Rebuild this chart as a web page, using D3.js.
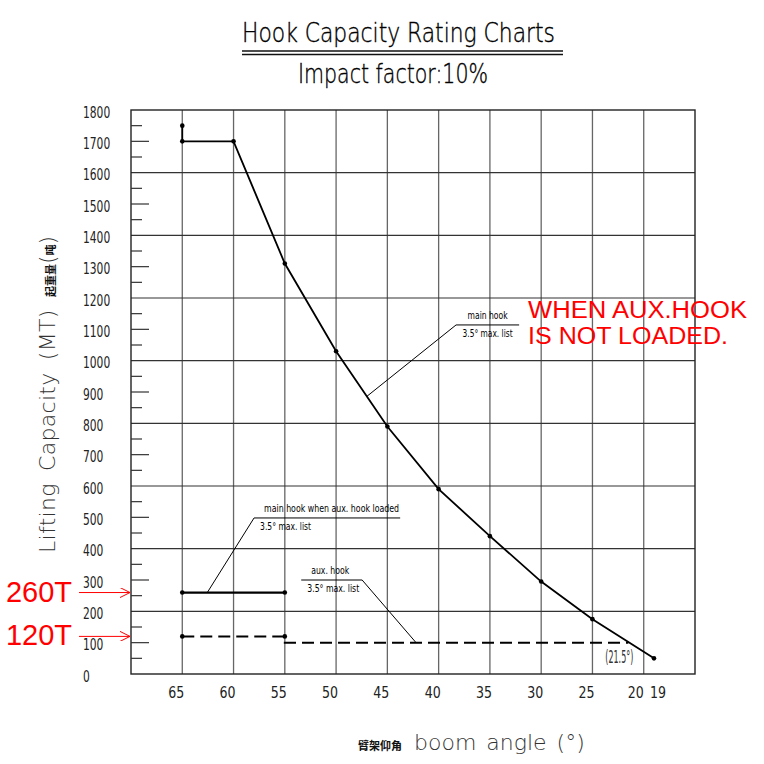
<!DOCTYPE html>
<html>
<head>
<meta charset="utf-8">
<script src="https://cdn.jsdelivr.net/npm/d3@7"></script>
<style>
  body { margin: 0; background: #fff; }
  .narrow { font-family: "Liberation Sans Narrow", "DejaVu Sans Condensed", sans-serif; }
  .thin { font-family: "DejaVu Sans", sans-serif; font-weight: 200; }
</style>
</head>
<body>
<div class="chart"></div>
<script>
// boom angle (deg) vs lifting capacity (MT)
var mainAngles = [65, 65, 60, 55, 50, 45, 40, 35, 30, 25, 19],
  mainLoads = [1750, 1700, 1700, 1310, 1030, 790, 590, 440, 295, 175, 50];
var loadedAngles = [65, 55],
  loadedLoads = [260, 260];
var auxAngles = [65, 55, 55, 21.5],
  auxLoads = [120, 120, 100, 100];
var auxDots = [0, 1]; // which aux points get a dot

var xTicks = [65, 60, 55, 50, 45, 40, 35, 30, 25, 20, 19],
  xGrid = [65, 60, 55, 50, 45, 40, 35, 30, 25, 20];
var yTicks = d3.range(0, 1801, 100),
  yMinor = d3.range(50, 1800, 100),
  yGrid = d3.range(200, 1601, 200);

var w = 764, h = 764;

var x = d3.scaleLinear().domain([70, 15]).range([131, 695]);
var y = d3.scaleLinear().domain([0, 1800]).range([674, 110]);

var svg = d3.select('.chart')
  .append('svg')
  .attr('width', w)
  .attr('height', h);

// grid
svg.selectAll('.vgrid')
  .data(xGrid)
  .enter()
  .append('line')
  .attr('x1', d => x(d)).attr('x2', d => x(d))
  .attr('y1', y(0)).attr('y2', y(1800))
  .attr('stroke', '#666').attr('stroke-width', 1.3);

svg.selectAll('.hgrid')
  .data(yGrid)
  .enter()
  .append('line')
  .attr('x1', x(70)).attr('x2', x(15))
  .attr('y1', d => y(d)).attr('y2', d => y(d))
  .attr('stroke', '#333').attr('stroke-width', 1.2);

// frame
svg.append('rect')
  .attr('x', x(70)).attr('y', y(1800))
  .attr('width', x(15) - x(70)).attr('height', y(0) - y(1800))
  .attr('fill', 'none').attr('stroke', '#222').attr('stroke-width', 1.4);

// y ticks (inside)
svg.selectAll('.ytick')
  .data(yTicks.filter(d => d % 200 !== 0))
  .enter()
  .append('line')
  .attr('x1', x(70)).attr('x2', x(70) + 18)
  .attr('y1', d => y(d)).attr('y2', d => y(d))
  .attr('stroke', '#333').attr('stroke-width', 1.2);

svg.selectAll('.yminor')
  .data(yMinor)
  .enter()
  .append('line')
  .attr('x1', x(70)).attr('x2', x(70) + 11)
  .attr('y1', d => y(d)).attr('y2', d => y(d))
  .attr('stroke', '#333').attr('stroke-width', 1.2);

svg.selectAll('.ylab')
  .data(yTicks)
  .enter()
  .append('text')
  .attr('class', 'narrow')
  .attr('x', 83)
  .attr('y', d => y(d) + 2)
  .attr('dominant-baseline', 'central')
  .attr('font-size', 16)
  .attr('textLength', d => String(d).length * 6.8)
  .attr('lengthAdjust', 'spacingAndGlyphs')
  .attr('fill', '#222')
  .text(d => d);

svg.selectAll('.xlab')
  .data(xTicks)
  .enter()
  .append('text')
  .attr('class', 'narrow')
  .attr('x', d => x(d) - (d === 19 ? 0 : 6))
  .attr('y', 692)
  .attr('dominant-baseline', 'central')
  .attr('text-anchor', d => d === 20 ? 'end' : (d === 19 ? 'start' : 'middle'))
  .attr('dx', d => d === 20 ? 6 : (d === 19 ? -4 : 0))
  .attr('font-size', 16)
  .attr('textLength', 16)
  .attr('lengthAdjust', 'spacingAndGlyphs')
  .attr('fill', '#222')
  .text(d => d);

// lines
var line = d3.line()
  .x(d => x(d[0]))
  .y(d => y(d[1]));

var mainData = d3.zip(mainAngles, mainLoads);
var loadedData = d3.zip(loadedAngles, loadedLoads);
var auxData = d3.zip(auxAngles, auxLoads);

svg.append('path')
  .attr('d', line(mainData))
  .attr('fill', 'none').attr('stroke', '#000').attr('stroke-width', 1.8);

svg.append('path')
  .attr('d', line(loadedData))
  .attr('fill', 'none').attr('stroke', '#000').attr('stroke-width', 2.2);

svg.append('path')
  .attr('d', line(auxData))
  .attr('fill', 'none').attr('stroke', '#000').attr('stroke-width', 2)
  .attr('stroke-dasharray', '12,6');

var dots = mainData.concat(loadedData, auxDots.map(i => auxData[i]));
svg.selectAll('.dot')
  .data(dots)
  .enter()
  .append('circle')
  .attr('cx', d => x(d[0]))
  .attr('cy', d => y(d[1]))
  .attr('r', 2.3)
  .attr('fill', '#000');

// annotations with leader lines
var notes = [
  { top: 'main hook', bottom: '3.5° max. list', from: 38.3, to: 32.15, at: 1114, tip: [47, 886], anchor: 'middle', lead: 'from', tw: 40, bw: 50 },
  { top: 'main hook when aux. hook loaded', bottom: '3.5° max. list', from: 58, to: 43.75, at: 498, tip: [62.56, 260], anchor: 'start', lead: 'from', tw: 135, bw: 51 },
  { top: 'aux. hook', bottom: '3.5° max. list', from: 53.4, to: 47.46, at: 300, tip: [42.2, 100], anchor: 'start', lead: 'to', tw: 38, bw: 52 }
];

notes.forEach(function (n) {
  var uy = y(n.at);
  svg.append('line')
    .attr('x1', x(n.from)).attr('x2', x(n.to))
    .attr('y1', uy).attr('y2', uy)
    .attr('stroke', '#000').attr('stroke-width', 1);
  var lx = n.lead === 'from' ? x(n.from) : x(n.to);
  svg.append('line')
    .attr('x1', lx).attr('y1', uy)
    .attr('x2', x(n.tip[0])).attr('y2', y(n.tip[1]))
    .attr('stroke', '#000').attr('stroke-width', 1);
  var tx = n.anchor === 'middle' ? (x(n.from) + x(n.to)) / 2 : x(n.from) + 10;
  svg.append('text')
    .attr('class', 'narrow')
    .attr('x', tx).attr('y', uy - 6)
    .attr('text-anchor', n.anchor)
    .attr('font-size', 10.5)
    .attr('textLength', n.tw)
    .attr('lengthAdjust', 'spacingAndGlyphs')
    .text(n.top);
  svg.append('text')
    .attr('class', 'narrow')
    .attr('x', tx - (n.anchor === 'middle' ? 0 : 4)).attr('y', uy + 12)
    .attr('text-anchor', n.anchor)
    .attr('font-size', 10.5)
    .attr('textLength', n.bw)
    .attr('lengthAdjust', 'spacingAndGlyphs')
    .text(n.bottom);
});

svg.append('text')
  .attr('class', 'narrow')
  .attr('x', x(21.5) - 9).attr('y', 657)
  .attr('text-anchor', 'middle')
  .attr('dominant-baseline', 'central')
  .attr('font-size', 17)
  .attr('textLength', 28)
  .attr('lengthAdjust', 'spacingAndGlyphs')
  .attr('fill', '#333')
  .text('(21.5°)');

// title
svg.append('text')
  .attr('class', 'thin')
  .attr('x', 242).attr('y', 42)
  .attr('font-size', 27)
  .attr('textLength', 313)
  .attr('lengthAdjust', 'spacingAndGlyphs')
  .attr('fill', '#000')
  .attr('stroke', '#000').attr('stroke-width', 0.4)
  .text('Hook Capacity Rating Charts');

[51, 54.5].forEach(function (ly) {
  svg.append('line')
    .attr('x1', 242).attr('x2', 563)
    .attr('y1', ly).attr('y2', ly)
    .attr('stroke', '#111').attr('stroke-width', 1.5);
});

svg.append('text')
  .attr('class', 'thin')
  .attr('x', 298).attr('y', 83)
  .attr('font-size', 27)
  .attr('textLength', 190)
  .attr('lengthAdjust', 'spacingAndGlyphs')
  .attr('fill', '#000')
  .attr('stroke', '#000').attr('stroke-width', 0.4)
  .text('Impact factor:10%');

// axis titles
var yl = svg.append('text')
  .attr('transform', 'translate(55,' + 553 + ') rotate(-90)')
  .attr('text-anchor', 'start')
  .attr('fill', '#333');
yl.append('tspan').attr('class', 'thin').attr('font-size', 22)
  .attr('letter-spacing', 0.3).attr('word-spacing', 5)
  .text('Lifting Capacity (MT) ');
yl.append('tspan').attr('font-family', 'Noto Sans CJK SC').attr('font-weight', 700)
  .attr('font-size', 11).attr('fill', '#111').text('起重量');
yl.append('tspan').attr('class', 'thin').attr('font-size', 22).text('(');
yl.append('tspan').attr('font-family', 'Noto Sans CJK SC').attr('font-weight', 700)
  .attr('font-size', 11).attr('fill', '#111').text('吨');
yl.append('tspan').attr('class', 'thin').attr('font-size', 22).text(')');

var xl = svg.append('text')
  .attr('x', 358).attr('y', 750)
  .attr('fill', '#333');
xl.append('tspan').attr('font-family', 'Noto Sans CJK SC').attr('font-weight', 700)
  .attr('font-size', 11).attr('fill', '#111').text('臂架仰角');
xl.append('tspan').attr('class', 'thin').attr('font-size', 22)
  .attr('dx', 12).attr('word-spacing', 3)
  .text('boom angle (°)');

// red callouts
svg.append('defs').append('marker')
  .attr('id', 'arr')
  .attr('viewBox', '0 0 10 10')
  .attr('refX', 10).attr('refY', 5)
  .attr('markerWidth', 10).attr('markerHeight', 10)
  .attr('markerUnits', 'userSpaceOnUse')
  .attr('orient', 'auto')
  .append('path')
  .attr('d', 'M0,0 L10,5 L0,10')
  .attr('fill', 'none').attr('stroke', 'red').attr('stroke-width', 1);

var callouts = [
  { label: '260T', value: 260 },
  { label: '120T', value: 120 }
];

svg.selectAll('.callout')
  .data(callouts)
  .enter()
  .append('text')
  .attr('font-family', 'Liberation Sans, Arial, sans-serif')
  .attr('x', 72)
  .attr('y', d => y(d.value) - 1)
  .attr('text-anchor', 'end')
  .attr('dominant-baseline', 'central')
  .attr('font-size', 29)
  .attr('fill', 'red')
  .text(d => d.label);

svg.selectAll('.carrow')
  .data(callouts)
  .enter()
  .append('line')
  .attr('x1', 79).attr('x2', x(70) - 1)
  .attr('y1', d => y(d.value)).attr('y2', d => y(d.value))
  .attr('stroke', 'red').attr('stroke-width', 1)
  .attr('marker-end', 'url(#arr)');

svg.append('text')
  .attr('font-family', 'Liberation Sans, Arial, sans-serif')
  .attr('font-size', 23.5)
  .attr('fill', 'red')
  .selectAll('tspan')
  .data([['WHEN AUX.HOOK', 219], ['IS NOT LOADED.', 200]])
  .enter()
  .append('tspan')
  .attr('x', 528)
  .attr('y', (d, i) => 318 + i * 26)
  .attr('textLength', d => d[1])
  .attr('lengthAdjust', 'spacingAndGlyphs')
  .text(d => d[0]);
</script>
</body>
</html>
